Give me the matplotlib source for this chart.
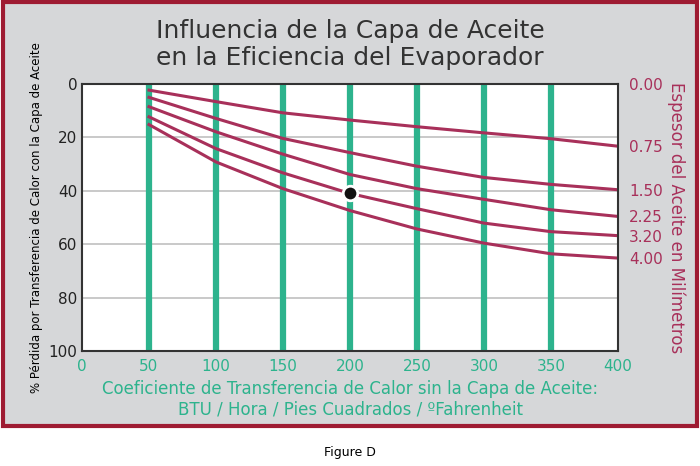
import matplotlib.pyplot as plt
from matplotlib.patches import Rectangle

x_vals = [50, 100, 150, 200, 250, 300, 350, 400]
thickness_labels = ['0.00', '0.75', '1.50', '2.25', '3.20', '4.00']
loss_075 = [2.3, 6.6, 10.8, 13.5, 16.0, 18.3, 20.5, 23.3]
loss_150 = [5.0, 12.9, 20.4, 25.7, 30.8, 35.0, 37.6, 39.6]
loss_225 = [8.5, 17.9, 26.3, 33.9, 39.2, 43.2, 47.1, 49.6]
loss_320 = [12.3, 24.2, 33.3, 41.0, 46.7, 52.1, 55.3, 56.8]
loss_400 = [15.2, 29.2, 39.2, 47.4, 54.3, 59.6, 63.6, 65.2]
label_pos = [0, 23.3, 39.6, 49.6, 56.8, 65.2]
dot_x, dot_y = 200, 41

green = '#2db38d'
red = '#a8305a'

fig = plt.figure(figsize=(7, 4.66), dpi=100)
fig.patch.set_facecolor('white')
fig.patches.append(Rectangle((0.004, 0.085), 0.992, 0.91, transform=fig.transFigure,
                             facecolor='#d6d7d9', edgecolor='#9e1b32', linewidth=3, zorder=-1))

ax = fig.add_axes([82/700, 1-351/466, 536/700, 267/466])
ax.set_facecolor('white')
for v in x_vals[:-1]:
    ax.axvline(v, color=green, lw=4.5, zorder=1)
for h in [20, 40, 60, 80]:
    ax.axhline(h, color='#c0c0c0', lw=1.2, zorder=0)

for s in [loss_075, loss_150, loss_225, loss_320, loss_400]:
    ax.plot(x_vals, s, color=red, lw=2.2, zorder=2)
ax.scatter([dot_x], [dot_y], s=110, color='#111111', edgecolor='white', linewidth=2, zorder=3)

ax.set_xlim(0, 400)
ax.set_ylim(100, 0)
ax.set_xticks(range(0, 401, 50))
ax.set_yticks(range(0, 101, 20))
ax.tick_params(length=0, labelsize=11)
ax.tick_params(axis='x', colors=green, pad=6)
for lab in ax.get_yticklabels():
    lab.set_color('#222222')
for sp in ax.spines.values():
    sp.set_color('#333333')
    sp.set_linewidth(1.5)
ax.set_ylabel('% Pérdida por Transferencia de Calor con la Capa de Aceite', fontsize=8.5)
ax.set_xlabel('Coeficiente de Transferencia de Calor sin la Capa de Aceite:\nBTU / Hora / Pies Cuadrados / ºFahrenheit',
              color=green, fontsize=12, labelpad=4, linespacing=1.2)

ax2 = ax.twinx()
ax2.set_ylim(100, 0)
ax2.set_yticks(label_pos)
ax2.set_yticklabels(thickness_labels)
ax2.tick_params(length=0, labelsize=11, colors=red, pad=8)
for sp in ax2.spines.values():
    sp.set_visible(False)
ax2.set_ylabel('Espesor del Aceite en Milímetros', color=red, fontsize=12, rotation=270, labelpad=16)

fig.text(0.5, 0.905, 'Influencia de la Capa de Aceite\nen la Eficiencia del Evaporador',
         ha='center', va='center', fontsize=18, color='#333333', linespacing=1.15)
fig.text(0.5, 0.03, 'Figure D', ha='center', va='center', fontsize=9)

plt.savefig('out.png', dpi=100)
